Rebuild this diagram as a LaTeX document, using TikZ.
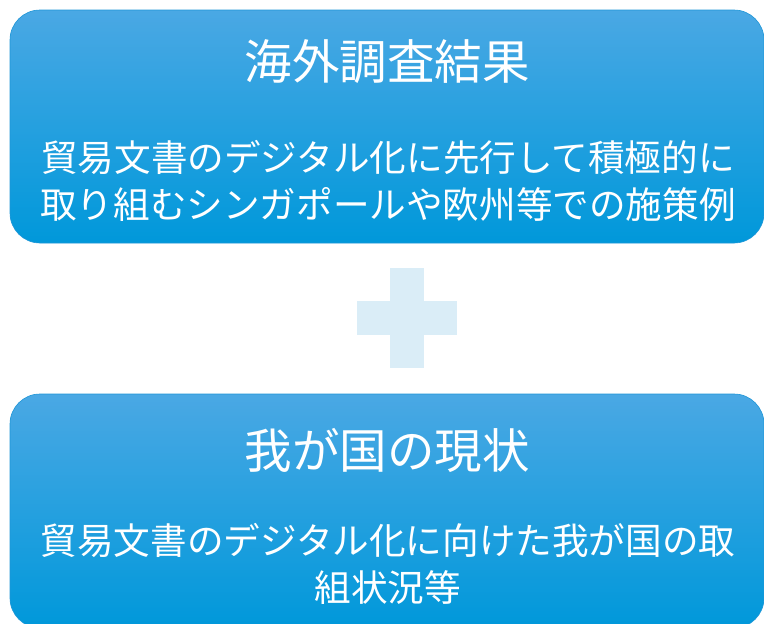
\documentclass[tikz,border=0pt]{standalone}
\usepackage{fontspec}
\setmainfont{Noto Sans CJK JP}
\definecolor{boxtop}{RGB}{74,168,228}
\definecolor{boxbot}{RGB}{0,152,218}
\definecolor{boxedge}{RGB}{30,150,215}
\definecolor{plusc}{RGB}{218,237,247}
\begin{document}
\begin{tikzpicture}[x=1pt,y=-1pt,
  panel/.style={rectangle, rounded corners=30pt, minimum width=754pt, minimum height=#1,
    top color=boxtop, bottom color=boxbot, draw=boxedge, line width=0.6pt, inner sep=0pt},
  ttl/.style={text=white, font=\fontsize{47.5}{52}\selectfont, inner sep=0pt},
  body/.style={text=white, font=\fontsize{36.6}{47}\selectfont, align=center, inner sep=0pt}
]
\useasboundingbox (0,0) rectangle (764,624);
\node[panel=233pt] (top) at (387,126.5) {};
\node[ttl] (t1) at (387,62) {海外調査結果};
\node[body] (b1) at (388,181) {貿易文書のデジタル化に先行して積極的に\\取り組むシンガポールや欧州等での施策例};
\fill[plusc] (390,268) rectangle (424,368);
\fill[plusc] (357,301) rectangle (457,335);
\node[panel=234pt] (bot) at (387,511) {};
\node[ttl] (t2) at (387,450) {我が国の現状};
\node[body] (b2) at (388,564) {貿易文書のデジタル化に向けた我が国の取\\組状況等};
\end{tikzpicture}
\end{document}
